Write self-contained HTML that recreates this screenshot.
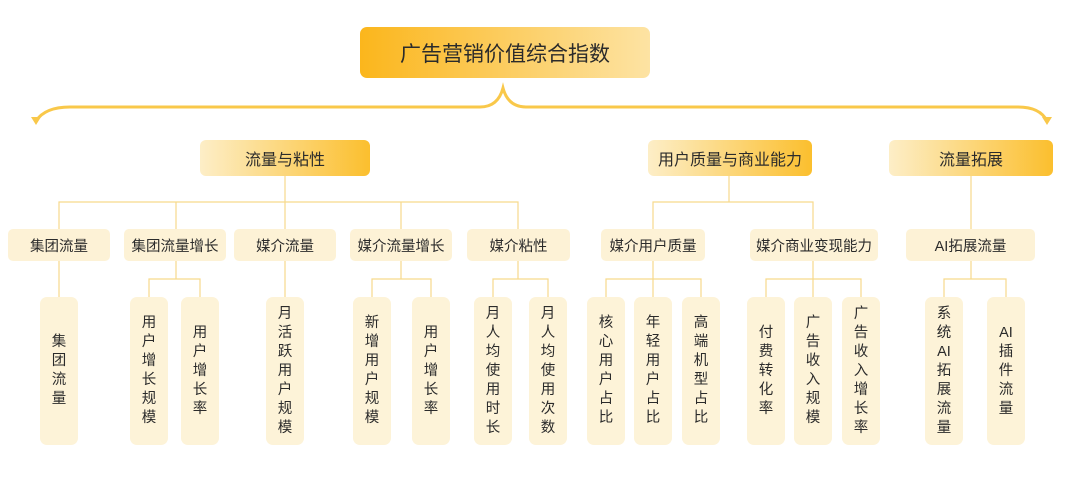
<!DOCTYPE html>
<html><head><meta charset="utf-8"><style>
body{margin:0;width:1080px;height:482px;background:#fff;position:relative;overflow:hidden;font-family:"Liberation Sans","Noto Sans CJK SC",sans-serif;color:#2b2b2b}
.b{position:absolute;display:flex;align-items:center;justify-content:center;border-radius:5px;box-sizing:border-box}
.top{left:360px;top:27px;width:290px;height:51px;background:linear-gradient(90deg,#fbb61c,#fde3a3);font-size:21px;border-radius:7px}
.l2{top:140px;height:36px;background:linear-gradient(90deg,#fdeec7,#fbbf2e);font-size:16px;border-radius:6px}
.l3{top:229px;height:32px;background:#fdf2d6;font-size:14.5px}
.l4{top:297px;height:148px;width:38px;background:#fdf3d8;font-size:14.5px;line-height:19px;text-align:center;flex-direction:column;border-radius:7px}
svg{position:absolute;left:0;top:0}
</style></head><body>
<svg width="1080" height="482">
<g fill="none" stroke="#f9c84a" stroke-width="3">
<path d="M36 121 Q45 107 70 107 L480 107 Q498 107 503 88 Q508 107 526 107 L1018 107 Q1040 107 1047 121"/>
</g>
<path d="M31 117 L36 125 L41 117Z M1042 117 L1047 125 L1052 117Z" fill="#f9c84a"/>
<g stroke="#f7d98c" stroke-width="1.2" fill="none">
<path d="M285 176V229 M59 229V202H518V229 M176 202V229 M401 202V229"/>
<path d="M729 176V202 M653 229V202H813V229"/>
<path d="M971 176V229"/>
<path d="M59 261V297"/>
<path d="M176 261V279 M149 297V279H200V297"/>
<path d="M285 261V297"/>
<path d="M401 261V279 M372 297V279H431V297"/>
<path d="M518 261V279 M493 297V279H548V297"/>
<path d="M653 261V297 M606 297V279H701V297"/>
<path d="M813 261V297 M766 297V279H861V297"/>
<path d="M971 261V279 M944 297V279H1006V297"/>
</g>
</svg>
<div class="b top">广告营销价值综合指数</div>
<div class="b l2" style="left:200px;width:170px">流量与粘性</div>
<div class="b l2" style="left:648px;width:164px">用户质量与商业能力</div>
<div class="b l2" style="left:889px;width:164px">流量拓展</div>
<div class="b l3" style="left:8px;width:102px">集团流量</div>
<div class="b l3" style="left:124px;width:102px">集团流量增长</div>
<div class="b l3" style="left:234px;width:102px">媒介流量</div>
<div class="b l3" style="left:350px;width:102px">媒介流量增长</div>
<div class="b l3" style="left:467px;width:103px">媒介粘性</div>
<div class="b l3" style="left:601px;width:104px">媒介用户质量</div>
<div class="b l3" style="left:750px;width:128px">媒介商业变现能力</div>
<div class="b l3" style="left:906px;width:129px">AI拓展流量</div>
<div class="b l4" style="left:40px">集<br>团<br>流<br>量</div>
<div class="b l4" style="left:130px">用<br>户<br>增<br>长<br>规<br>模</div>
<div class="b l4" style="left:181px">用<br>户<br>增<br>长<br>率</div>
<div class="b l4" style="left:266px">月<br>活<br>跃<br>用<br>户<br>规<br>模</div>
<div class="b l4" style="left:353px">新<br>增<br>用<br>户<br>规<br>模</div>
<div class="b l4" style="left:412px">用<br>户<br>增<br>长<br>率</div>
<div class="b l4" style="left:474px">月<br>人<br>均<br>使<br>用<br>时<br>长</div>
<div class="b l4" style="left:529px">月<br>人<br>均<br>使<br>用<br>次<br>数</div>
<div class="b l4" style="left:587px">核<br>心<br>用<br>户<br>占<br>比</div>
<div class="b l4" style="left:634px">年<br>轻<br>用<br>户<br>占<br>比</div>
<div class="b l4" style="left:682px">高<br>端<br>机<br>型<br>占<br>比</div>
<div class="b l4" style="left:747px">付<br>费<br>转<br>化<br>率</div>
<div class="b l4" style="left:794px">广<br>告<br>收<br>入<br>规<br>模</div>
<div class="b l4" style="left:842px">广<br>告<br>收<br>入<br>增<br>长<br>率</div>
<div class="b l4" style="left:925px">系<br>统<br>AI<br>拓<br>展<br>流<br>量</div>
<div class="b l4" style="left:987px">AI<br>插<br>件<br>流<br>量</div>
</body></html>
